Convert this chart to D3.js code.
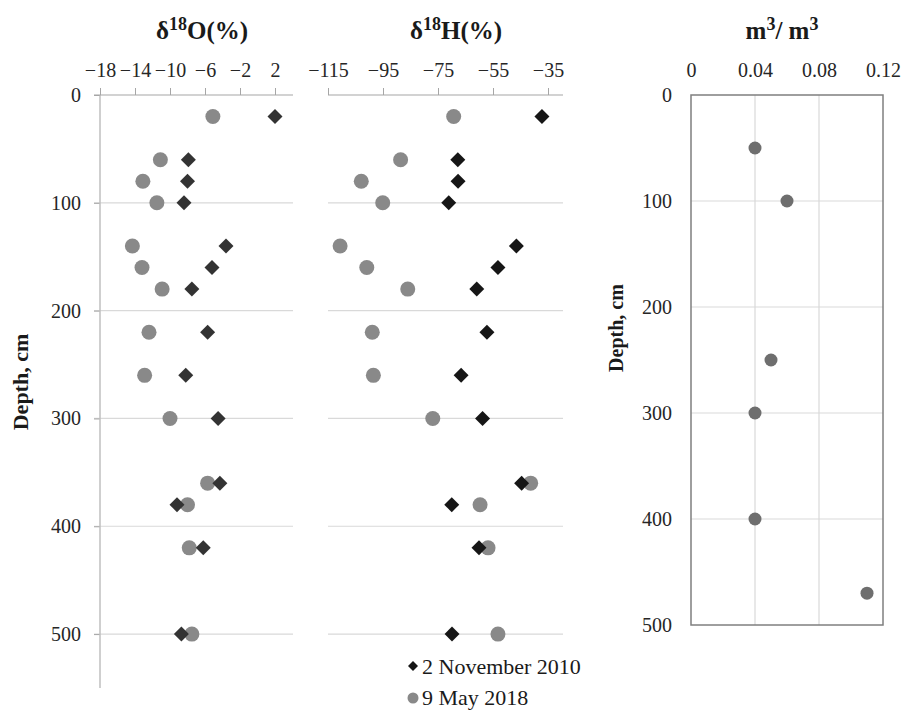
<!DOCTYPE html>
<meta charset="utf-8">
<style>
  body { margin: 0; background: #fff; }
  svg { font-family: "Liberation Serif", "Times New Roman", serif; }
  .axis path { display: none; }
  .axis line { stroke: #a6a6a6; stroke-width: 1px; }
  .grid line { stroke: #d9d9d9; stroke-width: 1.2px; }
  .title { font-size: 25px; font-weight: bold; fill: #1a1a1a; text-anchor: middle; }
  .legend text { font-size: 22px; fill: #1a1a1a; }
</style>
<svg width="902" height="711"></svg>
<script src="https://d3js.org/d3.v7.min.js"></script>
<script>
  // depths sampled for isotopes (cm)
  var depths = [20, 60, 80, 100, 140, 160, 180, 220, 260, 300, 360, 380, 420, 500];
  var o18Nov2010 = [2.0, -7.9, -8.0, -8.4, -3.6, -5.2, -7.5, -5.7, -8.2, -4.5, -4.3, -9.2, -6.2, -8.7];
  var o18May2018 = [-5.1, -11.1, -13.1, -11.5, -14.3, -13.2, -10.9, -12.4, -12.9, -10.0, -5.7, -8.0, -7.8, -7.5];
  var h2Nov2010 = [-37.2, -67.8, -67.7, -71.1, -46.5, -53.2, -60.9, -57.2, -66.6, -58.8, -44.6, -70.0, -60.1, -69.9];
  var h2May2018 = [-69.3, -88.6, -102.9, -95.1, -110.6, -100.9, -86.0, -98.9, -98.5, -76.9, -41.3, -59.7, -56.8, -53.2];

  // soil moisture
  var moistDepths = [50, 100, 250, 300, 400, 470];
  var moistValues = [0.04, 0.06, 0.05, 0.04, 0.04, 0.11];

  var depthTicks = [0, 100, 200, 300, 400, 500];
  var o18Ticks = [-18, -14, -10, -6, -2, 2];
  var h2Ticks = [-115, -95, -75, -55, -35];
  var moistTicks = [0, 0.04, 0.08, 0.12];
  var seriesNames = ["2 November 2010", "9 May 2018"];

  var svg = d3.select("svg");

  var yL = d3.scaleLinear().domain([0, 550]).range([95, 688]);
  var xO = d3.scaleLinear().domain([-18, 4]).range([100, 292.5]);
  var xH = d3.scaleLinear().domain([-115, -30]).range([328, 561.75]);
  var yR = d3.scaleLinear().domain([0, 500]).range([95, 625]);
  var xR = d3.scaleLinear().domain([0, 0.12]).range([691, 883]);

  var diamond = d3.symbol().type(d3.symbolSquare).size(112);

  // serif tick labels instead of d3's default sans-serif
  function axisStyle(g) {
    g.attr("font-family", null).attr("font-size", null);
    g.selectAll("text")
      .style("font-family", "'Liberation Serif', serif")
      .style("font-size", "20px")
      .attr("fill", "#262626");
  }

  // horizontal gridlines, left two panels
  [[94, 293], [328, 563]].forEach(function (ext) {
    svg.append("g").attr("class", "grid")
      .selectAll("line")
      .data(depthTicks.filter(function (d) { return d > 0; }))
      .enter().append("line")
      .attr("x1", ext[0]).attr("x2", ext[1])
      .attr("y1", function (d) { return yL(d); })
      .attr("y2", function (d) { return yL(d); });
  });

  // left depth axis
  svg.append("g")
    .attr("class", "axis")
    .attr("transform", "translate(100,0)")
    .call(d3.axisLeft(yL).tickValues(depthTicks).tickSize(6).tickPadding(13).tickFormat(d3.format("d")))
    .call(axisStyle);
  svg.append("line")
    .attr("x1", 100).attr("x2", 100).attr("y1", 95).attr("y2", yL(550))
    .attr("stroke", "#bfbfbf").attr("stroke-width", 1.5);

  // top axes
  svg.append("g")
    .attr("class", "axis")
    .attr("transform", "translate(0,95)")
    .call(d3.axisTop(xO).tickValues(o18Ticks).tickSize(7).tickPadding(11))
    .call(axisStyle);
  svg.append("line")
    .attr("x1", 94).attr("x2", 293).attr("y1", 95).attr("y2", 95)
    .attr("stroke", "#a6a6a6").attr("stroke-width", 1.2);

  svg.append("g")
    .attr("class", "axis")
    .attr("transform", "translate(0,95)")
    .call(d3.axisTop(xH).tickValues(h2Ticks).tickSize(7).tickPadding(11))
    .call(axisStyle);
  svg.append("line")
    .attr("x1", 328).attr("x2", 563).attr("y1", 95).attr("y2", 95)
    .attr("stroke", "#a6a6a6").attr("stroke-width", 1.2);

  // titles
  function supText(x, parts) {
    var t = svg.append("text").attr("class", "title").attr("x", x).attr("y", 39);
    parts.forEach(function (p) {
      var s = t.append("tspan").text(p[0]);
      if (p[1]) s.attr("dy", p[1]);
      if (p[2]) s.style("font-size", p[2]);
    });
  }
  supText(202, [["δ"], ["18", -9, "18px"], ["O(%)", 9]]);
  supText(456, [["δ"], ["18", -9, "18px"], ["H(%)", 9]]);
  supText(782, [["m"], ["3", -9, "18px"], ["/ m", 9], ["3", -9, "18px"]]);

  // depth labels
  svg.append("text").attr("class", "title")
    .attr("transform", "translate(28,382) rotate(-90)")
    .style("font-size", "22px")
    .text("Depth, cm");
  svg.append("text").attr("class", "title")
    .attr("transform", "translate(623,328) rotate(-90)")
    .style("font-size", "20px")
    .text("Depth, cm");

  // isotope points
  function plotPanel(xs, circ, diam, diamColor) {
    svg.append("g").selectAll("circle")
      .data(circ)
      .enter().append("circle")
      .attr("cx", function (d) { return xs(d); })
      .attr("cy", function (d, i) { return yL(depths[i]); })
      .attr("r", 7.5)
      .attr("fill", "#898989");
    svg.append("g").selectAll("path")
      .data(diam)
      .enter().append("path")
      .attr("d", diamond)
      .attr("transform", function (d, i) {
        return "translate(" + xs(d) + "," + yL(depths[i]) + ") rotate(45)";
      })
      .attr("fill", diamColor);
  }
  plotPanel(xO, o18May2018, o18Nov2010, "#333333");
  plotPanel(xH, h2May2018, h2Nov2010, "#161616");

  // legend
  var lg = svg.append("g").attr("class", "legend");
  lg.append("path")
    .attr("d", d3.symbol().type(d3.symbolSquare).size(50))
    .attr("transform", "translate(413,666) rotate(45)")
    .attr("fill", "#161616");
  lg.append("text").attr("x", 422).attr("y", 674).text(seriesNames[0]);
  lg.append("circle").attr("cx", 413).attr("cy", 698).attr("r", 5.5).attr("fill", "#898989");
  lg.append("text").attr("x", 422).attr("y", 705).text(seriesNames[1]);

  // moisture panel
  var gr = svg.append("g").attr("class", "grid");
  gr.selectAll(".h")
    .data(depthTicks.filter(function (d) { return d > 0 && d < 500; }))
    .enter().append("line")
    .attr("x1", xR(0)).attr("x2", xR(0.12))
    .attr("y1", function (d) { return yR(d); })
    .attr("y2", function (d) { return yR(d); });
  gr.selectAll(".v")
    .data(moistTicks.filter(function (d) { return d > 0 && d < 0.12; }))
    .enter().append("line")
    .attr("y1", yR(0)).attr("y2", yR(500))
    .attr("x1", function (d) { return xR(d); })
    .attr("x2", function (d) { return xR(d); });

  svg.append("rect")
    .attr("x", xR(0)).attr("y", yR(0))
    .attr("width", xR(0.12) - xR(0)).attr("height", yR(500) - yR(0))
    .attr("fill", "none").attr("stroke", "#7f7f7f").attr("stroke-width", 1.5);

  svg.append("g")
    .attr("class", "axis")
    .attr("transform", "translate(691,0)")
    .call(d3.axisLeft(yR).tickValues(depthTicks).tickSize(0).tickPadding(19).tickFormat(d3.format("d")))
    .call(axisStyle);
  svg.append("g")
    .attr("class", "axis")
    .attr("transform", "translate(0,95)")
    .call(d3.axisTop(xR).tickValues(moistTicks).tickSize(0).tickPadding(18)
      .tickFormat(function (d) { return d === 0 ? "0" : d3.format(".2f")(d); }))
    .call(axisStyle);

  svg.append("g").selectAll("circle")
    .data(moistValues)
    .enter().append("circle")
    .attr("cx", function (d) { return xR(d); })
    .attr("cy", function (d, i) { return yR(moistDepths[i]); })
    .attr("r", 6.5)
    .attr("fill", "#6e6e6e");
</script>
